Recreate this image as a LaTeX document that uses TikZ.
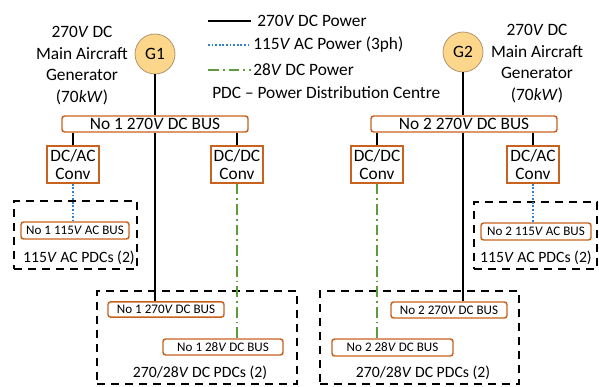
\documentclass[tikz,border=0pt]{standalone}
\usepackage{fontspec}
\setmainfont{Carlito}
\definecolor{busor}{HTML}{C9621F}
\definecolor{genfill}{HTML}{FCD68B}
\definecolor{gendraw}{HTML}{B0956A}
\definecolor{acblue}{HTML}{2F80D2}
\definecolor{dcgreen}{HTML}{5E9B3A}
\begin{document}
\begin{tikzpicture}[x=0.75pt,y=-0.75pt,
  bigtxt/.style={font=\fontsize{13}{16.3}\selectfont},
  pdctxt/.style={font=\fontsize{11.8}{14}\selectfont},
  smalltxt/.style={font=\fontsize{9.8}{11}\selectfont},
  gen/.style={circle,fill=genfill,draw=gendraw,line width=0.6pt,minimum size=30pt,inner sep=0pt,bigtxt},
  bus/.style={draw=busor,fill=white,line width=1.1pt,rounded corners=2pt,inner sep=0pt,bigtxt},
  sbus/.style={draw=busor,fill=white,line width=1.1pt,rounded corners=2pt,inner sep=0pt,smalltxt},
  conv/.style={draw=busor,fill=white,line width=1.1pt,inner sep=0pt,align=center,minimum width=39pt,minimum height=27.75pt,font=\fontsize{13}{13}\selectfont},
  pdc/.style={draw=black,line width=1.5pt,dash pattern=on 6pt off 4.5pt,inner sep=0pt},
  dcline/.style={black,line width=1.5pt},
  acline/.style={acblue,line width=1.6pt,dash pattern=on 1.4pt off 1.3pt},
  lvline/.style={dcgreen,line width=1.4pt,dash pattern=on 8pt off 3pt on 1.4pt off 3pt},
  lbl/.style={bigtxt,inner sep=0pt},
  plbl/.style={pdctxt,inner sep=0pt}]
\useasboundingbox (0,0) rectangle (599,386);

% generators
\node[gen] (g1) at (155,54) {G1};
\node[gen] (g2) at (463,52) {G2};
\node[bigtxt,align=center,inner sep=0pt] (g1t) at (82,65.5) {270\textit{V} DC\\Main Aircraft\\Generator\\(70\textit{kW})};
\node[bigtxt,align=center,inner sep=0pt] (g2t) at (537,63.5) {270\textit{V} DC\\Main Aircraft\\Generator\\(70\textit{kW})};

% legend
\coordinate (l1a) at (208,21); \coordinate (l1b) at (251,21);
\coordinate (l2a) at (208,45); \coordinate (l2b) at (251,45);
\coordinate (l3a) at (208,70); \coordinate (l3b) at (251,70);
\draw[dcline] (l1a) -- (l1b);
\draw[acline] (l2a) -- (l2b);
\draw[lvline] (l3a) -- (l3b);
\node[lbl,anchor=west] (lt1) at (257,21) {270\textit{V} DC Power};
\node[lbl,anchor=west] (lt2) at (253,45) {115\textit{V} AC Power (3ph)};
\node[lbl,anchor=west] (lt3) at (253,70) {28\textit{V} DC Power};
\node[lbl,anchor=west] (lt4) at (212,93) {PDC -- Power Distribution Centre};

% PDC dashed boxes
\node[pdc,minimum width=92.25pt,minimum height=51pt] (pac1) at (75.5,235) {};
\node[pdc,minimum width=92.25pt,minimum height=50.25pt] (pac2) at (535.5,235.5) {};
\node[pdc,minimum width=150pt,minimum height=69.75pt] (pdc1) at (197,337.5) {};
\node[pdc,minimum width=149.25pt,minimum height=69.75pt] (pdc2) at (419.5,337.5) {};
\node[plbl] (pac1t) at (79,258) {115\textit{V} AC PDCs (2)};
\node[plbl] (pac2t) at (536,258) {115\textit{V} AC PDCs (2)};
\node[plbl] (pdc1t) at (200,373) {270/28\textit{V} DC PDCs (2)};
\node[plbl] (pdc2t) at (423,373) {270/28\textit{V} DC PDCs (2)};

% main buses
\node[bus,minimum width=139.5pt,minimum height=12pt] (bus1) at (155,124) {No 1 270\textit{V} DC BUS};
\node[bus,minimum width=139.5pt,minimum height=12pt] (bus2) at (464,124) {No 2 270\textit{V} DC BUS};

% converters
\node[conv] (dcac1) at (73,164.5) {DC/AC\\Conv};
\node[conv] (dcdc1) at (237,164.5) {DC/DC\\Conv};
\node[conv] (dcdc2) at (377,164.5) {DC/DC\\Conv};
\node[conv] (dcac2) at (533,164.5) {DC/AC\\Conv};

% small buses
\node[sbus,minimum width=81pt,minimum height=12.75pt] (acbus1) at (75,230.5) {No 1 115\textit{V} AC BUS};
\node[sbus,minimum width=82.5pt,minimum height=12.75pt] (acbus2) at (536,231.5) {No 2 115\textit{V} AC BUS};
\node[sbus,minimum width=87pt,minimum height=11.5pt] (s270a) at (166,309.5) {No 1 270\textit{V} DC BUS};
\node[sbus,minimum width=90pt,minimum height=12pt] (s28a) at (223,347) {No 1 28\textit{V} DC BUS};
\node[sbus,minimum width=87pt,minimum height=12pt] (s270b) at (449,310) {No 2 270\textit{V} DC BUS};
\node[sbus,minimum width=90.75pt,minimum height=12.75pt] (s28b) at (392.5,347.5) {No 2 28\textit{V} DC BUS};

% connectors
\draw[dcline] (g1.south) -- (g1.south |- bus1.north);
\draw[dcline] (g1.south |- bus1.south) -- (g1.south |- s270a.north);
\draw[dcline] (g2.south) -- (g2.south |- bus2.north);
\draw[dcline] (g2.south |- bus2.south) -- (g2.south |- s270b.north);
\draw[dcline] (dcac1.north) -- (dcac1.north |- bus1.south);
\draw[dcline] (dcdc1.north) -- (dcdc1.north |- bus1.south);
\draw[dcline] (dcdc2.north) -- (dcdc2.north |- bus2.south);
\draw[dcline] (dcac2.north) -- (dcac2.north |- bus2.south);
\draw[acline] (dcac1.south) -- (dcac1.south |- acbus1.north);
\draw[acline] (dcac2.south) -- (dcac2.south |- acbus2.north);
\draw[lvline] (dcdc1.south) -- (dcdc1.south |- s28a.north);
\draw[lvline] (dcdc2.south) -- (dcdc2.south |- s28b.north);
\end{tikzpicture}
\end{document}
